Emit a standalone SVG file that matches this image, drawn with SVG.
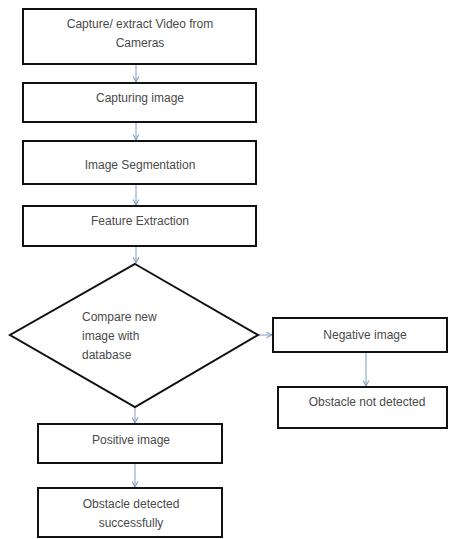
<svg xmlns="http://www.w3.org/2000/svg" width="450" height="539" viewBox="0 0 450 539">
<defs>
<style>
.box{fill:#fff;stroke:#111;stroke-width:2}
.t{font-family:"Liberation Sans",Arial,sans-serif;font-size:12px;fill:#4a4a4a;text-anchor:middle}
.tl{font-family:"Liberation Sans",Arial,sans-serif;font-size:12px;fill:#4a4a4a}
.c{stroke:#7f9cc4;stroke-width:1;fill:none;marker-end:url(#ah)}
</style>
<marker id="ah" viewBox="0 0 10 10" refX="9" refY="5" markerWidth="7" markerHeight="7" orient="auto" markerUnits="userSpaceOnUse">
<path d="M1,1 L9,5 L1,9" fill="none" stroke="#7f9cc4" stroke-width="1.5"/>
</marker>
</defs>
<rect width="450" height="539" fill="#fff"/>
<g id="connectors">
<line class="c" x1="136" y1="64" x2="136" y2="82"/>
<line class="c" x1="136" y1="122" x2="136" y2="140"/>
<line class="c" x1="136" y1="184" x2="136" y2="205"/>
<line class="c" x1="136" y1="246" x2="136" y2="263"/>
<line class="c" x1="258" y1="335" x2="272" y2="335"/>
<line class="c" x1="366" y1="352" x2="366" y2="386"/>
<line class="c" x1="135" y1="407" x2="135" y2="423"/>
<line class="c" x1="135" y1="463" x2="135" y2="487"/>
</g>
<g id="n1"><rect class="box" x="23" y="9" width="233" height="55"/>
<text class="t" x="140" y="28">Capture/ extract Video from</text>
<text class="t" x="140" y="47">Cameras</text></g>
<g id="n2"><rect class="box" x="23" y="83" width="233" height="39"/>
<text class="t" x="140" y="102">Capturing image</text></g>
<g id="n3"><rect class="box" x="23" y="141" width="233" height="43"/>
<text class="t" x="140" y="169">Image Segmentation</text></g>
<g id="n4"><rect class="box" x="23" y="206" width="233" height="40"/>
<text class="t" x="140" y="225">Feature Extraction</text></g>
<g id="n5"><polygon class="box" points="135,264 258,335 135,407 10,335"/>
<text class="tl" x="82" y="321">Compare new</text>
<text class="tl" x="82" y="340">image with</text>
<text class="tl" x="82" y="359">database</text></g>
<g id="n6"><rect class="box" x="273" y="318" width="174" height="34"/>
<text class="t" x="365" y="339">Negative image</text></g>
<g id="n7"><rect class="box" x="278" y="387" width="169" height="41"/>
<text class="t" x="367" y="406">Obstacle not detected</text></g>
<g id="n8"><rect class="box" x="38" y="424" width="184" height="39"/>
<text class="t" x="131" y="444">Positive image</text></g>
<g id="n9"><rect class="box" x="38" y="488" width="184" height="49"/>
<text class="t" x="131" y="508">Obstacle detected</text>
<text class="t" x="131" y="527">successfully</text></g>
</svg>
